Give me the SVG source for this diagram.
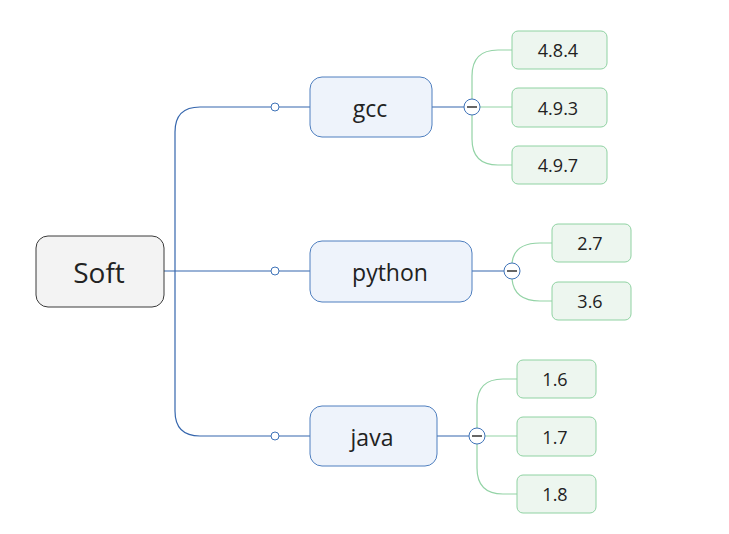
<svg xmlns="http://www.w3.org/2000/svg" width="729" height="534" viewBox="0 0 729 534">
<style>
.root{fill:#f3f3f3;stroke:#3a3a3a;stroke-width:1}
.main{fill:#eef3fb;stroke:#4f7fbf;stroke-width:1}
.sub{fill:#edf6ef;stroke:#8fd2a2;stroke-width:1}
.t{font-family:"Open Sans","Noto Sans","Liberation Sans",sans-serif;fill:#222;text-anchor:middle;dominant-baseline:central}
.blue{fill:none;stroke:#3566ad;stroke-width:1.2}
.green{fill:none;stroke:#93d3a6;stroke-width:1.2}
.dot{fill:#fff;stroke:#3f73b8;stroke-width:1}
.tog{fill:#fff;stroke:#3f73b8;stroke-width:1}
</style>
<rect width="729" height="534" fill="#fff"/>
<g id="connectors">
<path class="blue" d="M164 271 H175 M175 132 V411 M175 132 Q175 107 200 107 H310 M175 411 Q175 436 200 436 H310 M175 271 H310"/>
<circle class="dot" cx="275" cy="107" r="4"/>
<circle class="dot" cx="275" cy="271" r="4"/>
<circle class="dot" cx="275" cy="436" r="4"/>
<path class="blue" d="M432 107 H464 M472 271 H504 M437 436 H469"/>
<path class="green" d="M472 99 V76 Q472 50 498 50 H512 M480 107 H512 M472 115 V139 Q472 165 498 165 H512"/>
<path class="green" d="M512 263 Q514 243 540 243 H552 M512 279 Q514 301 540 301 H552"/>
<path class="green" d="M477 428 V405 Q477 379 503 379 H517 M485 436 H517 M477 444 V468 Q477 494 503 494 H517"/>
<g id="toggle-gcc"><circle class="tog" cx="472" cy="107" r="8"/><path d="M467 107 H477" stroke="#333" stroke-width="1.5"/></g>
<g id="toggle-python"><circle class="tog" cx="512" cy="271" r="8"/><path d="M507 271 H517" stroke="#666" stroke-width="2"/></g>
<g id="toggle-java"><circle class="tog" cx="477" cy="436" r="8"/><path d="M472 436 H482" stroke="#333" stroke-width="1.5"/></g>
</g>
<g id="soft"><rect class="root" x="36" y="236" width="128" height="71" rx="12"/><text class="t" x="99" y="272" font-size="28">Soft</text></g>
<g id="gcc"><rect class="main" x="310" y="77" width="122" height="60" rx="12"/><text class="t" x="370" y="108" font-size="23">gcc</text></g>
<g id="python"><rect class="main" x="310" y="241" width="162" height="61" rx="12"/><text class="t" x="390" y="272" font-size="23">python</text></g>
<g id="java"><rect class="main" x="310" y="406" width="127" height="60" rx="12"/><text class="t" x="372" y="437" font-size="23">java</text></g>
<g id="v484"><rect class="sub" x="512" y="31" width="95" height="38" rx="6"/><text class="t" x="558" y="50" font-size="18">4.8.4</text></g>
<g id="v493"><rect class="sub" x="512" y="88" width="95" height="39" rx="6"/><text class="t" x="558" y="108" font-size="18">4.9.3</text></g>
<g id="v497"><rect class="sub" x="512" y="146" width="95" height="38" rx="6"/><text class="t" x="558" y="165" font-size="18">4.9.7</text></g>
<g id="v27"><rect class="sub" x="552" y="224" width="79" height="38" rx="6"/><text class="t" x="590" y="243" font-size="18">2.7</text></g>
<g id="v36"><rect class="sub" x="552" y="282" width="79" height="38" rx="6"/><text class="t" x="590" y="301" font-size="18">3.6</text></g>
<g id="v16"><rect class="sub" x="517" y="360" width="79" height="38" rx="6"/><text class="t" x="555" y="379" font-size="18">1.6</text></g>
<g id="v17"><rect class="sub" x="517" y="417" width="79" height="39" rx="6"/><text class="t" x="555" y="437" font-size="18">1.7</text></g>
<g id="v18"><rect class="sub" x="517" y="475" width="79" height="38" rx="6"/><text class="t" x="555" y="494" font-size="18">1.8</text></g>
</svg>
